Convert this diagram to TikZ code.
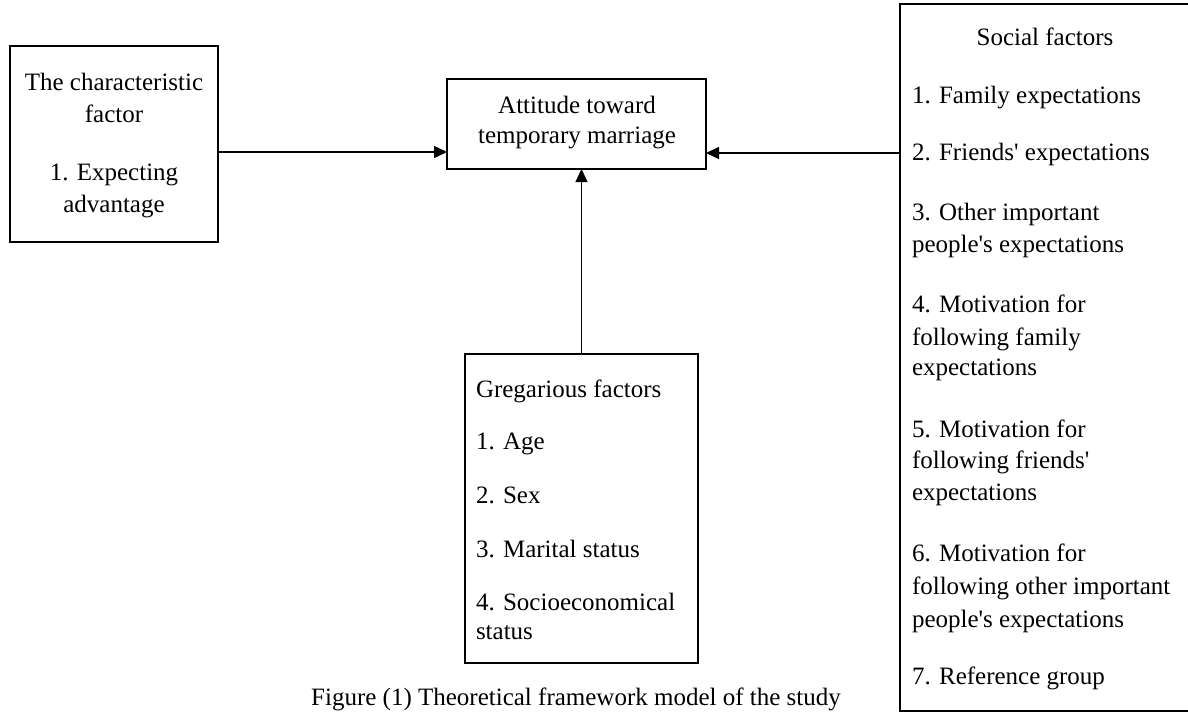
\documentclass[tikz,border=0pt]{standalone}
\usepackage{fontspec}
\setmainfont{Liberation Serif}
\usetikzlibrary{arrows.meta}
\tikzset{
  box/.style={draw, line width=1.5pt, minimum width=#1, inner sep=0pt, outer sep=0pt},
  txt/.style={inner sep=0pt, outer sep=0pt, font=\fontsize{25}{32}\selectfont},
  lt/.style={txt, anchor=base west},
  ct/.style={txt, anchor=base},
  conn/.style={line width=1.3pt, -{Triangle[length=13pt,width=12pt]}}
}
\begin{document}
\begin{tikzpicture}[x=1pt,y=-1pt]
\useasboundingbox (0,0) rectangle (1188,713);
\clip (0,0) rectangle (1188,713);
% boxes
\node[box=208pt, minimum height=196pt] (lb) at (114,144) {};
\node[box=259pt, minimum height=90pt] (att) at (576.5,124) {};
\node[box=233pt, minimum height=309pt] (greg) at (581.5,508.5) {};
\node[box=300pt, minimum height=707pt] (soc) at (1050,357.5) {};
% left box text
\node[ct] (l1) at (114,90) {The characteristic};
\node[ct] (l2) at (114,122) {factor};
\node[ct] (l3) at (114,180) {1. Expecting};
\node[ct] (l4) at (114,212) {advantage};
% attitude text
\node[ct] (a1) at (577,113) {Attitude toward};
\node[ct] (a2) at (577,143) {temporary marriage};
% gregarious text
\node[lt] (g0) at (476,397) {Gregarious factors};
\node[lt] (g1) at (476,449) {1. Age};
\node[lt] (g2) at (476,503) {2. Sex};
\node[lt] (g3) at (476,557) {3. Marital status};
\node[lt] (g4) at (476,610) {4. Socioeconomical};
\node[lt] (g5) at (476,639) {status};
% social text
\node[ct] (s0) at (1045,45) {Social factors};
\node[lt] (s1) at (912,103) {1. Family expectations};
\node[lt] (s2) at (912,160) {2. Friends\textquotesingle{} expectations};
\node[lt] (s3) at (912,220) {3. Other important};
\node[lt] (s3b) at (912,252) {people\textquotesingle{}s expectations};
\node[lt] (s4) at (912,312) {4. Motivation for};
\node[lt] (s4b) at (912,345) {following family};
\node[lt] (s4c) at (912,375) {expectations};
\node[lt] (s5) at (912,437) {5. Motivation for};
\node[lt] (s5b) at (912,468) {following friends\textquotesingle};
\node[lt] (s5c) at (912,500) {expectations};
\node[lt] (s6) at (912,561) {6. Motivation for};
\node[lt] (s6b) at (912,594) {following other important};
\node[lt] (s6c) at (912,627) {people\textquotesingle{}s expectations};
\node[lt] (s7) at (912,684) {7. Reference group};
% caption
\node[ct] (cap) at (576,705) {Figure (1) Theoretical framework model of the study};
% connectors
\coordinate (ya) at (0,152);
\coordinate (yb) at (0,153);
\draw[conn] (lb.east |- ya) -- (att.west |- ya);
\draw[conn] (soc.west |- yb) -- (att.east |- yb);
\draw[conn] (greg.north) -- (greg.north |- att.south);
\end{tikzpicture}
\end{document}
